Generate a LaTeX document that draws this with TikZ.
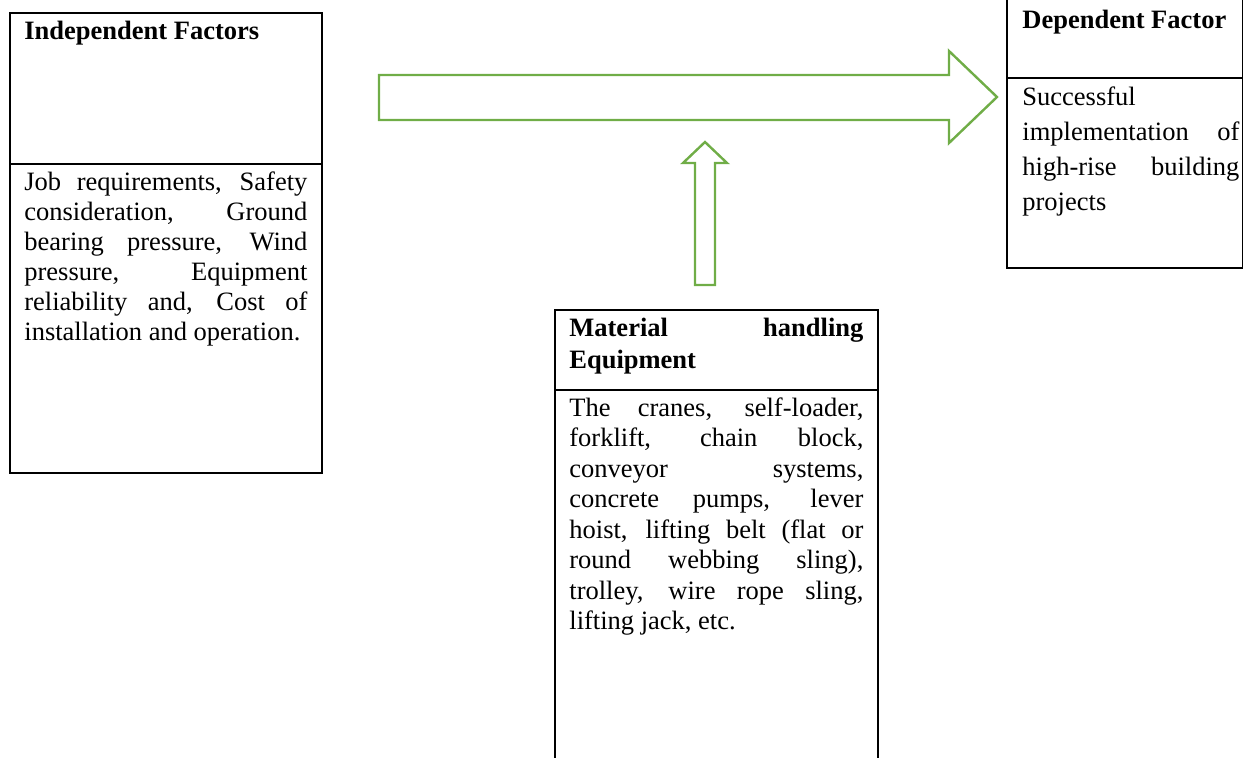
\documentclass[tikz,border=0pt]{standalone}
\usepackage{fontspec}
\setmainfont{Liberation Serif}
\definecolor{arrowgreen}{RGB}{112,173,71}
\tikzset{
	boxtext/.style={anchor=base west, inner sep=0pt, align=justify, font=\fontsize{13.25}{15}\selectfont},
	headtext/.style={anchor=base west, inner sep=0pt, align=justify, font=\fontsize{13.25}{16}\selectfont\bfseries},
	boxline/.style={line width=1pt},
	blockarrow/.style={line width=1.2pt, draw=arrowgreen, line join=miter}
}
\begin{document}
\begin{tikzpicture}[x=0.5pt, y=-0.5pt]
		\useasboundingbox (0,0) rectangle (1243,757);
		%%%%% START %%%%%
		
		% independent factors
		\draw[boxline] (10, 13) rectangle (322, 473);
		\draw[boxline] (10, 164) -- (322, 164);
		\node[headtext, text width=141.5pt] (indephead) at (24, 39) {Independent Factors};
		\node[boxtext, text width=141.5pt] (indepbody) at (24, 190) {Job requirements, Safety\linebreak consideration, Ground\linebreak bearing pressure, Wind\linebreak pressure, Equipment\linebreak reliability and, Cost of\linebreak installation and operation.};
		
		% material handling equipment
		\draw[boxline] (555, 310) rectangle (878, 775);
		\draw[boxline] (555, 390) -- (878, 390);
		\node[headtext, text width=147pt] (equiphead) at (569, 336) {Material\hfill handling\newline Equipment};
		\node[boxtext, text width=147pt, font=\fontsize{13.25}{15.25}\selectfont] (equipbody) at (569, 416) {The cranes, self-loader,\linebreak forklift, chain block,\linebreak conveyor systems,\linebreak concrete pumps, lever\linebreak hoist, lifting belt (flat or\linebreak round webbing sling),\linebreak trolley, wire rope sling,\linebreak lifting jack, etc.};
		
		% dependent factor
		\draw[boxline] (1007, -10) rectangle (1242.5, 268);
		\draw[boxline] (1007, 78) -- (1242.5, 78);
		\node[headtext, text width=108.5pt] (dephead) at (1022, 28) {Dependent Factor};
		\node[boxtext, text width=108.5pt, font=\fontsize{13.25}{17.5}\selectfont] (depbody) at (1022, 105) {Successful\newline implementation of\linebreak high-rise building\linebreak projects};
		
		% block arrows
		\draw[blockarrow] (379, 75) -- (949, 75) -- (949, 51) -- (997, 97) -- (949, 143) -- (949, 120) -- (379, 120) -- cycle;
		\draw[blockarrow] (695, 285) -- (695, 163) -- (683, 163) -- (705, 142) -- (727, 163) -- (715, 163) -- (715, 285) -- cycle;
		
		%%%%% END %%%%%
\end{tikzpicture}
\end{document}
